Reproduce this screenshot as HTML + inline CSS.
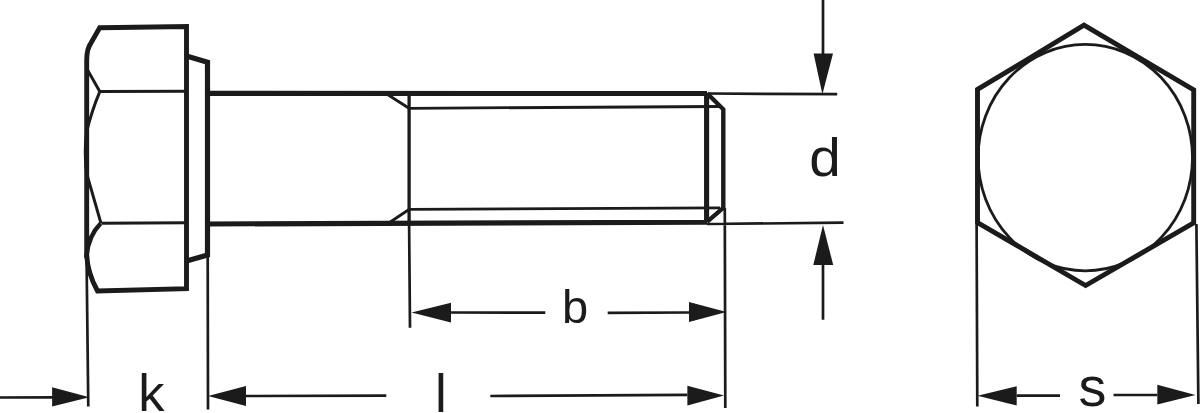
<!DOCTYPE html>
<html><head><meta charset="utf-8">
<style>
html,body{margin:0;padding:0;background:#fff;width:1200px;height:413px;overflow:hidden}
svg{display:block;will-change:transform}
text{font-family:"Liberation Sans",sans-serif;fill:#1b1b1b}
</style></head><body>
<svg width="1200" height="413" viewBox="0 0 1200 413">
<g fill="none" stroke="#1b1b1b" stroke-linejoin="miter" stroke-linecap="butt">
<!-- head outline -->
<path stroke-width="4.9" d="M99.7,27.8 L186.5,26.6 L186.5,288.7 L97.5,291 Q87.6,273 86.7,255 L86.7,60 C86.7,52 88,47 91,43 Z"/>
<!-- head arc lower -->
<path stroke-width="4.5" d="M100.6,223.5 Q88,236 86.3,258"/>
<!-- flange -->
<path stroke-width="5.2" d="M186.5,56 L207.5,62.3 L207.5,255 L186.5,261"/>
<!-- hex internal -->
<path stroke-width="3" d="M99.8,91.6 L186.5,91.2 M101.5,223.3 L186.5,222.8 M86.7,68.5 L99.8,91.6 Q92,110 86.5,132 Q84,152 86.5,173 L101,223.3"/>
<!-- shank -->
<path stroke-width="5.1" d="M207,93.4 L707,93.5 M207,224 L707,222.2 M706.6,93 L706.6,222"/>
<path stroke-width="4.4" d="M707,93.3 L723.3,109.3 L723.3,207.8 L707,221.8"/>
<path stroke-width="3.3" d="M409.1,93 L409.1,223"/>
<path stroke-width="2.8" d="M386,93.5 L409,108.3 M389.5,222.5 L409,209.5 M409,108.3 L719,106.5 M409,209.4 L720,207.8"/>
<!-- extension lines -->
<path stroke-width="2.7" d="M86.6,262 L88.3,406.5 M207.7,255 L208,409.6 M409.1,223 L410,327.8 M724.8,208 L725.3,408 M708,93.5 L837.2,94.2 M707,224 L843.5,222.7 M823,0 L823,55 M823,264 L823,319.7 M976.6,223 L977.3,406.4 M1196.4,224 L1198.4,404"/>
<path stroke-width="2.7" d="M451,312.5 L545.3,312.7 M607.7,312.8 L689,312.5 M0,397.5 L53,397.3 M246,396 L386.3,395.7 M490.3,396 L687.4,394.8 M1016.7,395.6 L1060,395.6 M1113.5,395 L1157.3,395"/>
<!-- hex view -->
<path stroke-width="4.9" d="M1084,25.2 L1193.7,89.8 L1193.7,222.8 L1085.6,285.5 L977.5,222.5 L977.5,89.5 Z"/>
<ellipse stroke-width="2.8" cx="1085.3" cy="157.6" rx="107.2" ry="113.2"/>
</g>
<g fill="#1b1b1b" stroke="none">
<polygon points="813.6,53.6 833,53.6 822.4,94.2"/>
<polygon points="823,225 813.3,265 833.2,265"/>
<polygon points="411.5,312.4 451,302.8 451,322.6"/>
<polygon points="726.5,312 689,302 689,322"/>
<polygon points="89.4,397.3 52.1,387.2 52.1,406.5"/>
<polygon points="208,396 246,386.1 246,405.9"/>
<polygon points="724,395.5 687.4,385.8 687.4,405.4"/>
<polygon points="977.5,395.7 1016.7,386.2 1016.7,405.6"/>
<polygon points="1195.5,395 1157.3,384.8 1157.3,404.6"/>
</g>
<text x="0" y="0" font-size="54" transform="translate(809.2,175.6) scale(1.05,1)">d</text>
<text x="562" y="323.3" font-size="47">b</text>
<text x="138.2" y="411.3" font-size="52.5">k</text>
<text x="435" y="411.6" font-size="53">l</text>
<text x="1078.5" y="405.6" font-size="55.8">s</text>
</svg>
</body></html>
